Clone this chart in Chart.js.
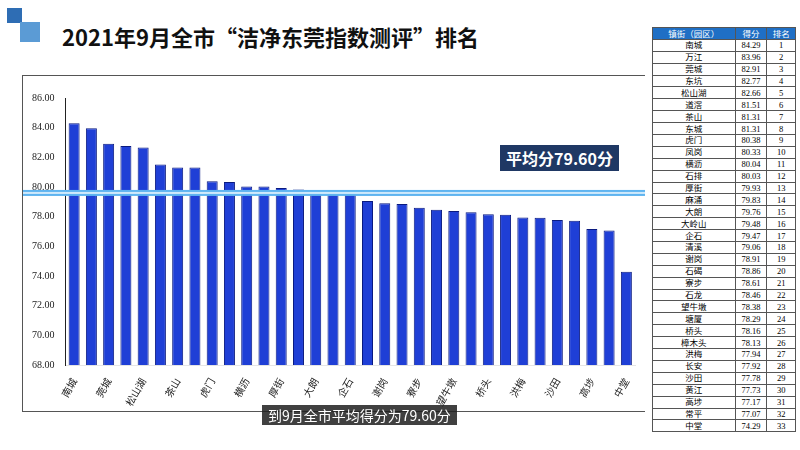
<!DOCTYPE html>
<html>
<head>
<meta charset="utf-8">
<script src="https://cdn.jsdelivr.net/npm/chart.js@4"></script>
<style>
body { margin: 0; width: 800px; height: 450px; background: #fff; position: relative; overflow: hidden; font-family: "Noto Sans CJK SC", sans-serif; }
#title { position: absolute; left: 62px; top: 20px; font-size: 22px; font-weight: bold; color: #111; }
.sq1 { position: absolute; left: 7px; top: 8px; width: 15px; height: 15px; background: #2e6db4; }
.sq2 { position: absolute; left: 20px; top: 22px; width: 20px; height: 20px; background: #5b9bd5; }
#box { position: absolute; left: 22px; top: 75px; width: 622px; height: 335px; border: 1px solid #555; border-right: none; }
#avg { position: absolute; left: 500px; top: 145px; background: #1f3864; color: #fff; font-size: 16px; font-weight: bold; padding: 1px 6px; }
#caption { position: absolute; left: 262px; top: 405px; background: rgba(30,30,30,0.85); color: #fff; font-size: 14px; padding: 0 6px; }
table { position: absolute; left: 652px; top: 27px; width: 144px; border-collapse: collapse; font-size: 8.5px; font-family: "Liberation Serif", "Noto Sans CJK SC", serif; }
td, th { border: 1px solid #555; height: 10.9px; padding: 0; text-align: center; line-height: 10px; }
th { background: #1f6fc5; color: #fff; font-weight: normal; font-family: "Noto Sans CJK SC"; }
</style>
</head>
<body>
<div class="sq1"></div><div class="sq2"></div>
<div id="title">2021年9月全市“洁净东莞指数测评”排名</div>
<div id="box"><canvas id="chart" width="622" height="335"></canvas></div>
<div id="avg">平均分79.60分</div>
<div id="caption">到9月全市平均得分为79.60分</div>
<table id="tbl"></table>
<script>
const towns = ['南城', '万江', '莞城', '东坑', '松山湖', '道滘', '茶山', '东城', '虎门', '凤岗', '横沥', '石排', '厚街', '麻涌', '大朗', '大岭山', '企石', '清溪', '谢岗', '石碣', '寮步', '石龙', '望牛墩', '塘厦', '桥头', '樟木头', '洪梅', '长安', '沙田', '黄江', '高埗', '常平', '中堂']
const scores = [84.29, 83.96, 82.91, 82.77, 82.66, 81.51, 81.31, 81.31, 80.38, 80.33, 80.04, 80.03, 79.93, 79.83, 79.76, 79.48, 79.47, 79.06, 78.91, 78.86, 78.61, 78.46, 78.38, 78.29, 78.16, 78.13, 77.94, 77.92, 77.78, 77.73, 77.17, 77.07, 74.29]
const average = 79.60

const tbl = document.querySelector('#tbl')
let html = '<tr><th>镇街（园区）</th><th>得分</th><th>排名</th></tr>'
towns.forEach((t, i) => {
    html += `<tr><td>${t}</td><td>${scores[i].toFixed(2)}</td><td>${i + 1}</td></tr>`
})
tbl.innerHTML = html

const avgLine = {
    id: 'avgLine',
    afterDatasetsDraw(chart) {
        const y = chart.scales.y.getPixelForValue(average)
        const ctx = chart.ctx
        ctx.save()
        ctx.fillStyle = '#5fb4f0'
        ctx.fillRect(0, y - 3, chart.width, 6)
        ctx.fillStyle = '#cfe9fb'
        ctx.fillRect(0, y - 1, chart.width, 2)
        ctx.restore()
    }
}

new Chart(document.querySelector('#chart'), {
    type: 'bar',
    data: {
        labels: towns,
        datasets: [{
            data: scores,
            backgroundColor: '#1f3fd6',
            borderColor: '#0a1a80',
            borderWidth: 1,
            categoryPercentage: 0.85,
            barPercentage: 0.75
        }]
    },
    options: {
        responsive: false,
        animation: false,
        layout: { padding: { top: 22, right: 10, left: 6 } },
        plugins: { legend: false, tooltip: false },
        scales: {
            x: {
                grid: { display: false },
                ticks: { maxRotation: 60, minRotation: 60, color: '#222', font: { size: 10, family: 'Noto Sans CJK SC' } }
            },
            y: {
                min: 68,
                max: 86,
                ticks: {
                    stepSize: 2,
                    color: '#222',
                    font: { size: 10, family: 'Liberation Serif' },
                    callback: v => v.toFixed(2)
                },
                grid: { display: false },
                border: { color: '#222' }
            }
        }
    },
    plugins: [avgLine]
})
</script>
</body>
</html>
